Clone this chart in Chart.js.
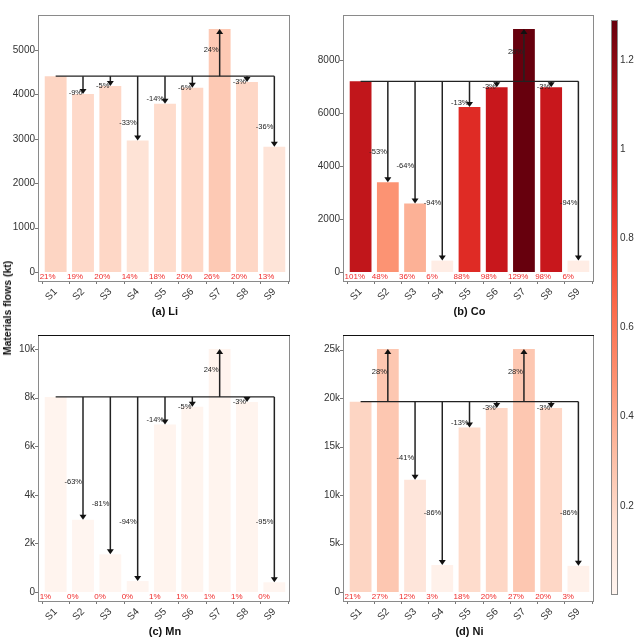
<!DOCTYPE html>
<html>
<head>
<meta charset="utf-8">
<script src="https://cdn.jsdelivr.net/npm/chart.js@4.4.1/dist/chart.umd.min.js"></script>
<style>
body { margin: 0; background: #fff; }
#wrap { position: relative; width: 640px; height: 640px; font-family: "Liberation Sans", Arial, sans-serif; }
.panel { position: absolute; }
#ylab { position: absolute; left: 7px; top: 308px; transform: translate(-50%, -50%) rotate(-90deg);
        font-weight: bold; font-size: 10.5px; color: #111; white-space: nowrap; }
</style>
</head>
<body>
<div id="wrap">
  <canvas id="chartLi" class="panel" style="left:0;top:0" width="300" height="320"></canvas>
  <canvas id="chartCo" class="panel" style="left:300px;top:0" width="300" height="320"></canvas>
  <canvas id="chartMn" class="panel" style="left:0;top:320px" width="300" height="320"></canvas>
  <canvas id="chartNi" class="panel" style="left:300px;top:320px" width="300" height="320"></canvas>
  <canvas id="colorbar" class="panel" style="left:600px;top:0" width="40" height="640"></canvas>
  <div id="ylab">Materials flows (kt)</div>
</div>
<script>
var categories = ['S1', 'S2', 'S3', 'S4', 'S5', 'S6', 'S7', 'S8', 'S9'];

// material flows (kt) per scenario
var liFlows = [4410, 4010, 4190, 2960, 3790, 4150, 5470, 4280, 2820];
var coFlows = [7200, 3390, 2590, 430, 6230, 6970, 9170, 6970, 430];
var mnFlows = [8030, 2970, 1550, 450, 6900, 7630, 10000, 7820, 400];
var niFlows = [19630, 25050, 11570, 2780, 16970, 18980, 25050, 18980, 2700];

// share values (colour + red labels)
var liShares = [0.21, 0.19, 0.20, 0.14, 0.18, 0.20, 0.26, 0.20, 0.13];
var coShares = [1.01, 0.48, 0.36, 0.06, 0.88, 0.98, 1.29, 0.98, 0.06];
var mnShares = [0.01, 0.00, 0.00, 0.00, 0.01, 0.01, 0.01, 0.01, 0.00];
var niShares = [0.21, 0.27, 0.12, 0.03, 0.18, 0.20, 0.27, 0.20, 0.03];

// change vs S1
var liChanges = ['', '-9%', '-5%', '-33%', '-14%', '-6%', '24%', '-3%', '-36%'];
var coChanges = ['', '-53%', '-64%', '-94%', '-13%', '-3%', '28%', '-3%', '-94%'];
var mnChanges = ['', '-63%', '-81%', '-94%', '-14%', '-5%', '24%', '-3%', '-95%'];
var niChanges = ['', '28%', '-41%', '-86%', '-13%', '-3%', '28%', '-3%', '-86%'];

// tick values / labels
var liTicks = [0, 1000, 2000, 3000, 4000, 5000];
var liTickLabels = ['0', '1000', '2000', '3000', '4000', '5000'];
var coTicks = [0, 2000, 4000, 6000, 8000];
var coTickLabels = ['0', '2000', '4000', '6000', '8000'];
var mnTicks = [0, 2000, 4000, 6000, 8000, 10000];
var mnTickLabels = ['0', '2k', '4k', '6k', '8k', '10k'];
var niTicks = [0, 5000, 10000, 15000, 20000, 25000];
var niTickLabels = ['0', '5k', '10k', '15k', '20k', '25k'];
var colorbarTicks = [0.2, 0.4, 0.6, 0.8, 1.0, 1.2];
var colorbarLabels = ['0.2', '0.4', '0.6', '0.8', '1', '1.2'];
var colorMin = 0, colorMax = 1.29;

var reds = ['#fff5f0', '#fee0d2', '#fcbba1', '#fc9272', '#fb6a4a', '#ef3b2c', '#cb181d', '#a50f15', '#67000d'];

function hexToRgb(h) {
    return [parseInt(h.substr(1, 2), 16), parseInt(h.substr(3, 2), 16), parseInt(h.substr(5, 2), 16)];
}

function colorFor(v) {
    var t = (v - colorMin) / (colorMax - colorMin) * (reds.length - 1);
    t = Math.max(0, Math.min(reds.length - 1, t));
    var i = Math.min(Math.floor(t), reds.length - 2);
    var f = t - i;
    var a = hexToRgb(reds[i]), b = hexToRgb(reds[i + 1]);
    return 'rgb(' + Math.round(a[0] + (b[0] - a[0]) * f) + ',' +
        Math.round(a[1] + (b[1] - a[1]) * f) + ',' +
        Math.round(a[2] + (b[2] - a[2]) * f) + ')';
}

Chart.defaults.font.family = '"Liberation Sans", Arial, sans-serif';
Chart.defaults.color = '#333';

function makePanel(id, flows, shares, changes, ticks, tickLabels, title, opts) {
    var ymax = Math.max.apply(null, flows);

    var panelPlugin = {
        id: 'arrows',
        afterDatasetsDraw: function (chart) {
            var ctx = chart.ctx, xs = chart.scales.x, ys = chart.scales.y;
            var yb = ys.getPixelForValue(flows[0]);
            ctx.save();
            ctx.strokeStyle = '#222';
            ctx.fillStyle = '#111';
            ctx.lineWidth = 1.2;
            ctx.beginPath();
            ctx.moveTo(xs.getPixelForValue(0), yb);
            ctx.lineTo(xs.getPixelForValue(flows.length - 1), yb);
            ctx.stroke();
            for (var i = 1; i < flows.length; i++) {
                var xp = xs.getPixelForValue(i);
                var yt = ys.getPixelForValue(flows[i]);
                var dir = yt > yb ? 1 : -1;
                ctx.lineWidth = 1.5;
                ctx.beginPath();
                ctx.moveTo(xp, yb);
                ctx.lineTo(xp, yt - dir * 4);
                ctx.stroke();
                ctx.beginPath();
                ctx.moveTo(xp, yt);
                ctx.lineTo(xp - 3.5, yt - dir * 5);
                ctx.lineTo(xp + 3.5, yt - dir * 5);
                ctx.closePath();
                ctx.fill();
            }
            // change labels, left of each arrow
            ctx.font = '7.5px "Liberation Sans", Arial, sans-serif';
            ctx.fillStyle = '#222';
            ctx.textAlign = 'right';
            ctx.textBaseline = 'middle';
            for (var m = 1; m < flows.length; m++) {
                var lx = xs.getPixelForValue(m);
                var ty = ys.getPixelForValue(flows[m]);
                var L = Math.abs(ty - yb);
                var ly = ty > yb ? ty - Math.max(0, 0.35 * L - 5) : ty + 0.44 * L;
                ctx.fillText(changes[m], lx - 1, ly);
            }
            // red share labels under bars
            ctx.font = '8px "Liberation Sans", Arial, sans-serif';
            ctx.fillStyle = '#f02a2a';
            ctx.textAlign = 'left';
            var y0 = ys.getPixelForValue(0) + 5;
            for (var j = 0; j < shares.length; j++) {
                ctx.fillText(Math.round(shares[j] * 100) + '%', xs.getPixelForValue(j) - 16, y0);
            }
            ctx.restore();
        },
        afterDraw: function (chart) {
            var ctx = chart.ctx, a = chart.chartArea, ys = chart.scales.y;
            var left = a.left - 4, right = a.right + 1;
            ctx.save();
            ctx.strokeStyle = '#8a8a8a';
            ctx.lineWidth = 1;
            ctx.strokeRect(left + 0.5, a.top + 0.5, right - left, a.bottom - a.top);
            if (opts.darkTop) {
                ctx.strokeStyle = '#111';
                ctx.beginPath();
                ctx.moveTo(left, a.top + 0.5);
                ctx.lineTo(right + 1, a.top + 0.5);
                ctx.stroke();
            }
            // y tick marks on the frame
            ctx.strokeStyle = '#777';
            ctx.beginPath();
            for (var k = 0; k < ticks.length; k++) {
                var py = Math.round(ys.getPixelForValue(ticks[k])) + 0.5;
                ctx.moveTo(left - 3, py);
                ctx.lineTo(left, py);
            }
            ctx.stroke();
            ctx.restore();
        }
    };

    return new Chart(document.getElementById(id).getContext('2d'), {
        type: 'bar',
        data: {
            labels: categories,
            datasets: [{
                data: flows,
                backgroundColor: shares.map(colorFor),
                borderWidth: 0,
                barPercentage: 0.8,
                categoryPercentage: 1
            }]
        },
        options: {
            responsive: false,
            animation: false,
            layout: { padding: { top: opts.top, right: opts.right, left: 0, bottom: 0 } },
            plugins: { legend: { display: false }, tooltip: { enabled: false } },
            scales: {
                x: {
                    offset: true,
                    grid: { display: true, drawOnChartArea: false, drawTicks: true, tickLength: 3, color: '#777' },
                    border: { display: false },
                    ticks: { minRotation: 45, maxRotation: 45, font: { size: 10 }, color: '#333', padding: 2 },
                    title: { display: true, text: title, font: { size: 11, weight: 'bold' }, color: '#111', padding: { top: 0, bottom: 1 } },
                    afterFit: function (s) { s.height = opts.xh; }
                },
                y: {
                    min: -0.037 * ymax,
                    max: 1.058 * ymax,
                    grid: { display: false, drawTicks: false },
                    border: { display: false },
                    ticks: {
                        font: { size: 10 }, color: '#333', padding: 7,
                        callback: function (v) {
                            var k = ticks.indexOf(v);
                            return k >= 0 ? tickLabels[k] : '';
                        }
                    },
                    afterBuildTicks: function (s) { s.ticks = ticks.map(function (v) { return { value: v }; }); },
                    afterFit: function (s) { s.width = opts.yw; }
                }
            }
        },
        plugins: [panelPlugin]
    });
}

makePanel('chartLi', liFlows, liShares, liChanges, liTicks, liTickLabels, '(a) Li', { top: 15, right: 12, yw: 42, xh: 39 });
makePanel('chartCo', coFlows, coShares, coChanges, coTicks, coTickLabels, '(b) Co', { top: 15, right: 8, yw: 47, xh: 39 });
makePanel('chartMn', mnFlows, mnShares, mnChanges, mnTicks, mnTickLabels, '(c) Mn', { top: 15, right: 12, yw: 42, xh: 39, darkTop: true });
makePanel('chartNi', niFlows, niShares, niChanges, niTicks, niTickLabels, '(d) Ni', { top: 15, right: 8, yw: 47, xh: 39, darkTop: true });

// colour bar
var colorbarPlugin = {
    id: 'gradientBar',
    beforeDatasetsDraw: function (chart) {
        var ctx = chart.ctx, a = chart.chartArea;
        var g = ctx.createLinearGradient(0, a.bottom, 0, a.top);
        for (var i = 0; i < reds.length; i++) g.addColorStop(i / (reds.length - 1), reds[i]);
        ctx.save();
        ctx.fillStyle = g;
        ctx.fillRect(a.left, a.top, a.right - a.left, a.bottom - a.top);
        ctx.strokeStyle = '#888';
        ctx.lineWidth = 1;
        ctx.strokeRect(a.left + 0.5, a.top + 0.5, a.right - a.left - 1, a.bottom - a.top - 1);
        ctx.restore();
    }
};

new Chart(document.getElementById('colorbar').getContext('2d'), {
    type: 'bar',
    data: { labels: [''], datasets: [{ data: [], backgroundColor: 'rgba(0,0,0,0)' }] },
    options: {
        responsive: false,
        animation: false,
        layout: { padding: { top: 20, bottom: 45, left: 11, right: 0 } },
        plugins: { legend: { display: false }, tooltip: { enabled: false } },
        scales: {
            x: { display: false },
            y: {
                position: 'right',
                min: colorMin,
                max: colorMax,
                grid: { display: false, drawTicks: false },
                border: { display: false },
                ticks: {
                    font: { size: 10 }, color: '#333', padding: 2,
                    callback: function (v) {
                        var k = colorbarTicks.indexOf(v);
                        return k >= 0 ? colorbarLabels[k] : '';
                    }
                },
                afterBuildTicks: function (s) { s.ticks = colorbarTicks.map(function (v) { return { value: v }; }); },
                afterFit: function (s) { s.width = 22; }
            }
        }
    },
    plugins: [colorbarPlugin]
});
</script>
</body>
</html>
